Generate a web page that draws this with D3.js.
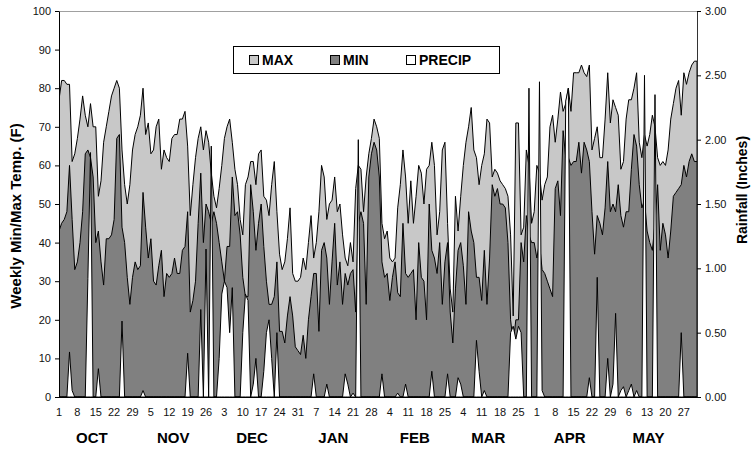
<!DOCTYPE html>
<html>
<head>
<meta charset="utf-8">
<script src="https://cdn.jsdelivr.net/npm/d3@7"></script>
<style>
  html, body { margin: 0; padding: 0; background: #fff; }
  svg { display: block; font-family: "Liberation Sans", Arial, sans-serif; }
  .axis text { font-size: 11px; fill: #111; }
  .month-label { font-size: 15px; font-weight: bold; fill: #000; }
  .axis-title { font-size: 14px; font-weight: bold; fill: #000; }
  .legend-text { font-size: 14px; font-weight: bold; fill: #000; }
</style>
</head>
<body>
<svg id="chart" width="751" height="453"></svg>
<script>
// daily values, Oct 1 .. Jun 1 (last May array holds the closing Jun 1 point)
const monthNames = ["OCT", "NOV", "DEC", "JAN", "FEB", "MAR", "APR", "MAY"];
const seriesNames = ["MAX", "MIN", "PRECIP"];
const leftTicks = [0, 10, 20, 30, 40, 50, 60, 70, 80, 90, 100];
const rightTicks = [0, 0.5, 1, 1.5, 2, 2.5, 3];

const maxOct = [77,82,82,81,81,61,63,67,72,78,73,70,76,70,70,52,56,66,70,74,78,80,82,80,64,55,50,55,64,68,70];
const maxNov = [73,80,68,71,63,64,70,72,59,64,62,61,67,68,68,72,72,74,65,47,55,62,67,70,64,69,66,58,52,49];
const maxDec = [54,60,67,70,72,66,59,55,46,42,55,57,61,61,55,63,64,52,51,47,55,61,48,37,33,35,41,49,32,30,30];
const maxJan = [31,36,33,40,47,36,40,48,60,57,46,50,51,57,48,50,42,36,34,40,35,54,60,59,48,57,63,67,72,70,67];
const maxFeb = [45,41,43,36,35,36,49,55,64,57,45,56,45,52,60,58,50,59,60,66,60,42,48,64,66,45,28,22];
const maxMar = [52,43,52,60,66,70,75,64,62,55,60,63,72,71,57,59,58,56,55,54,52,42,21,71,71,42,44,64,60,45,48];
const maxApr = [60,58,51,55,57,70,73,66,72,79,74,76,80,74,84,84,84,86,84,83,86,64,67,70,62,62,72,84,71,77];
const maxMay = [75,73,59,61,72,77,77,80,84,66,62,68,65,68,73,70,62,60,61,60,64,72,76,80,82,73,84,81,84,86,87,87];

const minOct = [43,45,46,48,60,46,33,35,40,48,63,64,62,57,40,43,35,29,41,41,42,46,67,68,44,40,31,24,31,35,33];
const minNov = [34,53,44,36,41,30,29,34,38,26,32,31,32,36,32,32,38,39,48,22,25,30,45,58,40,50,48,45,48,45];
const minDec = [40,35,30,39,39,57,47,48,42,31,26,26,55,48,38,45,50,39,30,24,24,26,35,17,17,14,21,26,21,13,12];
const minJan = [11,16,10,20,26,32,32,17,38,40,36,24,35,45,29,35,24,32,29,32,33,22,45,48,45,24,57,63,66,64,57];
const minFeb = [35,31,32,25,31,35,27,26,45,32,31,32,33,20,40,31,30,20,50,38,36,32,40,24,35,40,22,14];
const minMar = [28,38,40,34,24,48,43,40,31,31,25,38,24,36,55,52,54,50,50,49,40,20,14,20,20,40,35,47,42,40,40];
const minApr = [36,40,33,32,30,28,26,54,56,47,69,62,62,60,61,61,66,58,66,64,61,48,37,47,45,42,49,61,48,50];
const minMay = [48,55,47,44,48,48,59,68,65,55,49,51,43,40,38,45,55,38,45,42,36,43,52,53,54,55,60,57,61,63,61,61];

const rainOct = [0,0,0,0,0.35,0.05,0,0,0,0,0,0.92,1.9,0,0,0.22,0,0,0,0,0,0,0,0,0.59,0,0,0,0,0,0];
const rainNov = [0,0.05,0,0,0,0,0,0,0,0,0,0,0,0,0,0,0,0,0.34,0,0,0,0,0.68,0,1.15,0,1.95,0,0];
const rainDec = [0.3,0.8,0.9,0.85,0.5,0.85,0,0,0,0.5,0.8,0.75,0,0.1,0.3,0,0,0.2,0.5,0.6,0.3,0,0.5,0,0,0,0,0,0,0,0];
const rainJan = [0,0,0,0,0,0.18,0,0,0,0,0.1,0,0,0,0,0,0,0.18,0.1,0,0.03,0,2.0,0,0,0,0,0,0,0,0];
const rainFeb = [0.18,0,0,0,0,0,0.03,0,0,0.1,0,0,0,0,0,0,0,0,0,0.2,0,0,0,0,0,0.18,0,0];
const rainMar = [0,0.15,0.1,0,0,0,0,0,0.44,0.2,0,0.05,0,0,0,0,0,0,0,0,0,0.5,0.55,0.45,0.55,0.5,0,0,2.4,0,0];
const rainApr = [0,2.45,0.05,0,0,0,0,0,0,0,0,2.3,2.4,0,0,0,0,0,0,0,0.15,0,0,0.93,0,0,0,0.3,0,0.1];
const rainMay = [0.65,0,0.05,0.08,0,0.05,0.1,0,0.05,0,0,2.5,0,0,0,2.35,0,0,0,0,0,0,0,0,0,0.5,0,0,0,0,0,0];

const maxTemp = [].concat(maxOct, maxNov, maxDec, maxJan, maxFeb, maxMar, maxApr, maxMay);
const minTemp = [].concat(minOct, minNov, minDec, minJan, minFeb, minMar, minApr, minMay);
const rain = [].concat(rainOct, rainNov, rainDec, rainJan, rainFeb, rainMar, rainApr, rainMay);

const days = d3.timeDay.range(new Date(2001, 9, 1), new Date(2002, 5, 2));

const svg = d3.select("#chart");
const margin = { top: 11, right: 54, bottom: 56, left: 59 };
const width = 751, height = 453;
const plotRight = width - margin.right;
const plotBottom = height - margin.bottom;

const x = d3.scaleLinear().domain([0, days.length - 1]).range([margin.left, plotRight]);
const yTemp = d3.scaleLinear().domain([0, 100]).range([plotBottom, margin.top]);
const yRain = d3.scaleLinear().domain([0, 3]).range([plotBottom, margin.top]);

svg.append("defs").append("clipPath").attr("id", "plotClip")
  .append("rect")
  .attr("x", margin.left).attr("y", margin.top)
  .attr("width", plotRight - margin.left).attr("height", plotBottom - margin.top);

// top border of plot area
svg.append("line")
  .attr("x1", margin.left).attr("x2", plotRight)
  .attr("y1", margin.top + 0.5).attr("y2", margin.top + 0.5)
  .attr("stroke", "#a0a0a0");

const plot = svg.append("g").attr("clip-path", "url(#plotClip)");

function drawArea(values, yScale, fill) {
  const area = d3.area()
    .x((d, i) => x(i))
    .y0(yScale(0))
    .y1(d => yScale(d));
  plot.append("path")
    .datum(values)
    .attr("d", area)
    .attr("fill", fill)
    .attr("stroke", "#000")
    .attr("stroke-width", 1)
    .attr("stroke-linejoin", "round");
}

drawArea(maxTemp, yTemp, "#c8c8c8");
drawArea(minTemp, yTemp, "#808080");
drawArea(rain, yRain, "#ffffff");

// left axis
svg.append("g")
  .attr("class", "axis")
  .attr("transform", `translate(${margin.left},0)`)
  .call(d3.axisLeft(yTemp).tickValues(leftTicks).tickSize(4).tickSizeOuter(0).tickPadding(4))
  .call(g => g.select(".domain").attr("stroke", "#000"));

// right axis
svg.append("g")
  .attr("class", "axis")
  .attr("transform", `translate(${plotRight},0)`)
  .call(d3.axisRight(yRain).tickValues(rightTicks).tickFormat(d3.format(".2f")).tickSize(4).tickSizeOuter(0).tickPadding(4))
  .call(g => g.select(".domain").attr("stroke", "#333"));

// bottom axis line
svg.append("line")
  .attr("x1", margin.left).attr("x2", plotRight)
  .attr("y1", plotBottom + 0.5).attr("y2", plotBottom + 0.5)
  .attr("stroke", "#000");

// weekly day labels
const weekIdx = d3.range(0, days.length - 1, 7);
svg.append("g")
  .attr("class", "axis")
  .selectAll("text")
  .data(weekIdx)
  .join("text")
  .attr("x", i => x(i))
  .attr("y", plotBottom + 19)
  .attr("text-anchor", "middle")
  .text(i => days[i].getDate());

// month labels
const monthStarts = days.map((d, i) => d.getDate() === 1 ? i : -1).filter(i => i >= 0).slice(0, monthNames.length);
svg.append("g")
  .selectAll("text")
  .data(monthStarts)
  .join("text")
  .attr("class", "month-label")
  .attr("x", i => x(i + 12.5))
  .attr("y", plotBottom + 46)
  .attr("text-anchor", "middle")
  .text((d, k) => monthNames[k]);

// axis titles
svg.append("text")
  .attr("class", "axis-title")
  .style("font-size", "15px")
  .attr("transform", `translate(21,${(margin.top + plotBottom) / 2 + 12}) rotate(-90)`)
  .attr("text-anchor", "middle")
  .text("Weekly Min/Max Temp. (F)");

svg.append("text")
  .attr("class", "axis-title")
  .attr("transform", `translate(747,${(margin.top + plotBottom) / 2 - 14}) rotate(-90)`)
  .attr("text-anchor", "middle")
  .text("Rainfall (Inches)");

// legend
const legend = svg.append("g").attr("transform", "translate(233,46)");
legend.append("rect")
  .attr("x", 0.5).attr("y", 0.5)
  .attr("width", 266).attr("height", 27)
  .attr("fill", "#fff").attr("stroke", "#000");
const legendFill = ["#c8c8c8", "#808080", "#ffffff"];
const legendX = [16, 97, 173];
const items = legend.selectAll("g.item")
  .data(seriesNames)
  .join("g")
  .attr("class", "item")
  .attr("transform", (d, k) => `translate(${legendX[k]},0)`);
items.append("rect")
  .attr("x", 0.5).attr("y", 9.5)
  .attr("width", 9).attr("height", 9)
  .attr("fill", (d, k) => legendFill[k])
  .attr("stroke", "#000");
items.append("text")
  .attr("class", "legend-text")
  .attr("x", 13)
  .attr("y", 19)
  .text(d => d);
</script>
</body>
</html>
